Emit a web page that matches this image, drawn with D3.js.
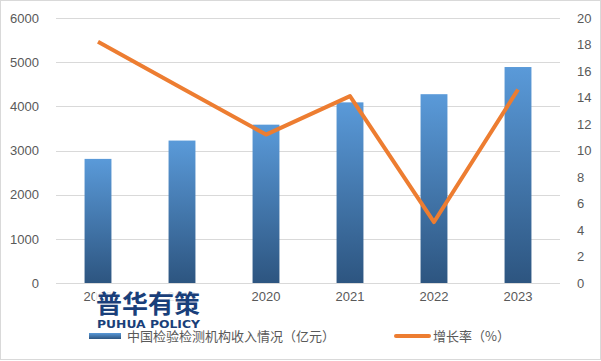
<!DOCTYPE html>
<html>
<head>
<meta charset="utf-8">
<script src="https://cdn.jsdelivr.net/npm/d3@7"></script>
<style>
body { margin: 0; background: #fff; }
svg { display: block; font-family: "Noto Sans CJK SC", "Noto Sans", sans-serif; }
</style>
</head>
<body>
<script>
var w = 601;
var h = 361;

// Data
var years = ["2018", "2019", "2020", "2021", "2022", "2023"];
var revenue = [2810, 3225, 3585, 4090, 4275, 4890];
var growth = [18.2, 14.7, 11.2, 14.1, 4.6, 14.6];
var leftTicks = [0, 1000, 2000, 3000, 4000, 5000, 6000];
var rightTicks = [0, 2, 4, 6, 8, 10, 12, 14, 16, 18, 20];

var margin = { top: 18, right: 41, bottom: 78, left: 56 };

var svg = d3.select("body")
    .append("svg")
    .attr("width", w)
    .attr("height", h);

// Outer border
svg.append("rect")
    .attr("x", 0.5).attr("y", 0.5)
    .attr("width", w - 1).attr("height", h - 2)
    .attr("fill", "none")
    .attr("stroke", "#d9d9d9");

// Gradient for bars
var grad = svg.append("defs").append("linearGradient")
    .attr("id", "barGrad")
    .attr("x1", 0).attr("y1", 0).attr("x2", 0).attr("y2", 1);
grad.append("stop").attr("offset", "0%").attr("stop-color", "#5a9ad9");
grad.append("stop").attr("offset", "100%").attr("stop-color", "#2d5580");

var x = d3.scaleBand()
    .domain(years)
    .range([margin.left, w - margin.right])
    .paddingInner(0.68)
    .paddingOuter(0.34);

var yL = d3.scaleLinear().domain([0, 6000]).range([h - margin.bottom, margin.top]);
var yR = d3.scaleLinear().domain([0, 20]).range([h - margin.bottom, margin.top]);

// Gridlines
svg.append("g")
    .selectAll("line")
    .data(leftTicks)
    .enter().append("line")
    .attr("x1", margin.left)
    .attr("x2", w - margin.right)
    .attr("y1", function(d) { return Math.round(yL(d)) + 0.5; })
    .attr("y2", function(d) { return Math.round(yL(d)) + 0.5; })
    .attr("stroke", "#d9d9d9")
    .attr("stroke-width", 1);

// Left axis labels
var leftAxis = svg.append("g")
    .attr("transform", "translate(" + (margin.left - 14) + ",0)")
    .call(d3.axisLeft(yL).tickValues(leftTicks).tickSize(0).tickFormat(d3.format("d")));
leftAxis.select(".domain").remove();
leftAxis.selectAll("text")
    .attr("fill", "#595959")
    .style("font-size", "13px");

// Right axis labels
var rightAxis = svg.append("g")
    .attr("transform", "translate(" + (w - margin.right + 14) + ",0)")
    .call(d3.axisRight(yR).tickValues(rightTicks).tickSize(0));
rightAxis.select(".domain").remove();
rightAxis.selectAll("text")
    .attr("fill", "#595959")
    .style("font-size", "13px");

// Bars
svg.append("g")
    .selectAll("rect")
    .data(revenue)
    .enter().append("rect")
    .attr("x", function(d, i) { return x(years[i]); })
    .attr("width", x.bandwidth())
    .attr("y", function(d) { return yL(d); })
    .attr("height", function(d) { return yL(0) - yL(d); })
    .attr("fill", "url(#barGrad)");

// Bottom axis labels
var bottomAxis = svg.append("g")
    .attr("transform", "translate(0," + (h - margin.bottom + 6) + ")")
    .call(d3.axisBottom(x).tickSize(0));
bottomAxis.select(".domain").remove();
bottomAxis.selectAll("text")
    .attr("fill", "#595959")
    .style("font-size", "13px");

// Growth line
var line = d3.line()
    .x(function(d, i) { return x(years[i]) + x.bandwidth() / 2; })
    .y(function(d) { return yR(d); });

svg.append("path")
    .datum(growth)
    .attr("d", line)
    .attr("fill", "none")
    .attr("stroke", "#ed7d31")
    .attr("stroke-width", 4)
    .attr("stroke-linejoin", "round");

// Legend
var legend = svg.append("g");
legend.append("rect")
    .attr("x", 89).attr("y", 333)
    .attr("width", 32).attr("height", 6)
    .attr("fill", "url(#barGrad)");
legend.append("text")
    .attr("x", 127).attr("y", 341)
    .attr("fill", "#595959")
    .style("font-size", "13px")
    .text("中国检验检测机构收入情况（亿元）");
legend.append("line")
    .attr("x1", 396).attr("x2", 429)
    .attr("y1", 336).attr("y2", 336)
    .attr("stroke", "#ed7d31")
    .attr("stroke-width", 4)
    .attr("stroke-linecap", "round");
legend.append("text")
    .attr("x", 433).attr("y", 341)
    .attr("fill", "#595959")
    .style("font-size", "13px")
    .text("增长率（%）");

// Watermark (sits over the first two year labels, as in the source)
var wm = svg.append("g");
wm.append("rect")
    .attr("x", 95).attr("y", 292)
    .attr("width", 106).attr("height", 23)
    .attr("fill", "#fff")
    .attr("opacity", 0.85);
wm.append("text")
    .attr("x", 96).attr("y", 313)
    .attr("fill", "#1a3f7a")
    .style("font-size", "25px")
    .style("font-weight", "bold")
    .attr("textLength", 104)
    .attr("lengthAdjust", "spacingAndGlyphs")
    .text("普华有策");
wm.append("text")
    .attr("x", 97).attr("y", 328)
    .attr("fill", "#1a3f7a")
    .style("font-size", "11px")
    .style("font-weight", "bold")
    .style("font-family", "'DejaVu Sans', sans-serif")
    .attr("textLength", 103)
    .attr("lengthAdjust", "spacingAndGlyphs")
    .text("PUHUA POLICY");
</script>
</body>
</html>
